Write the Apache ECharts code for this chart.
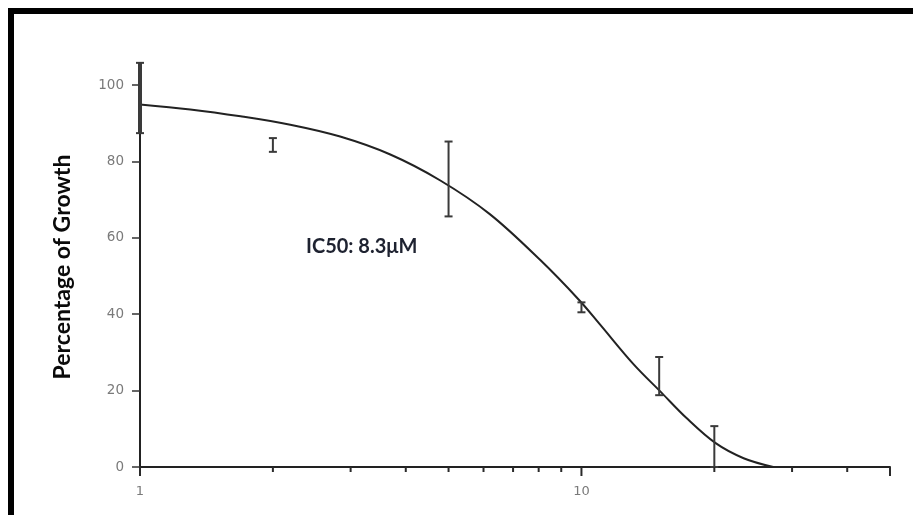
<!DOCTYPE html>
<html>
<head>
<meta charset="utf-8">
<script src="https://cdn.jsdelivr.net/npm/echarts@6/dist/echarts.min.js"></script>
<style>
  html, body { margin: 0; padding: 0; background: #fff; }
  #chart { width: 913px; height: 515px; }
</style>
</head>
<body>
<div id="chart"></div>
<script>
// ---- data ----
const concentrations = [1, 2, 5, 10, 15, 20];
const growthMean = [96.6, 84.3, 75.4, 41.8, 23.8, 5.3];
const growthErr = [9.2, 1.8, 9.8, 1.3, 5.0, 5.4];

const fitConc = [1, 1.3, 1.69, 2.19, 2.84, 3.69, 4.79, 6.2, 8.08, 9.9, 11.0, 13.1, 15.2, 17.3, 20.1, 23.3, 27.2];
const fitGrowth = [94.9, 93.6, 91.8, 89.6, 86.5, 81.8, 75.0, 66.2, 54.1, 43.6, 37.4, 27.0, 19.4, 12.8, 6.3, 2.3, 0];

const yTicks = [0, 20, 40, 60, 80, 100];
const xLabelValues = [1, 10];
const xMajorTicks = [1, 10, 50];
const xMinorTicks = [2, 3, 4, 5, 6, 7, 8, 9, 20, 30, 40];

const yTitle = 'Percentage of Growth';
const annotation = 'IC50: 8.3\u03bcM';

// ---- build ----
const errData = concentrations.map((c, i) => [c, growthMean[i], growthErr[i]]);
const fitData = fitConc.map((c, i) => [c, fitGrowth[i]]);
const tickData = xMajorTicks.map(v => [v, 0, 1]).concat(xMinorTicks.map(v => [v, 0, 0]));

const chart = echarts.init(document.getElementById('chart'), null, { renderer: 'canvas' });

const option = {
  backgroundColor: '#ffffff',
  animation: false,
  grid: { left: 140, right: 23, top: 85, bottom: 48, containLabel: false, outerBoundsMode: 'none' },
  xAxis: {
    type: 'log',
    logBase: 10,
    min: 1,
    max: 50,
    axisLine: { show: true, onZero: false, lineStyle: { color: '#222', width: 2 } },
    axisTick: { show: false },
    splitLine: { show: false },
    minorTick: { show: false },
    axisLabel: {
      margin: 18,
      color: '#7a7a7a',
      fontSize: 13,
      fontFamily: 'DejaVu Sans',
      formatter: v => (xLabelValues.indexOf(Math.round(v * 1000) / 1000) >= 0 ? String(Math.round(v)) : '')
    }
  },
  yAxis: {
    type: 'value',
    min: yTicks[0],
    max: yTicks[yTicks.length - 1],
    interval: yTicks[1] - yTicks[0],
    axisLine: { show: true, lineStyle: { color: '#222', width: 2 } },
    axisTick: { show: true, inside: false, length: 8, lineStyle: { color: '#333', width: 1.5 } },
    splitLine: { show: false },
    axisLabel: { margin: 16, color: '#7a7a7a', fontSize: 13.5, fontFamily: 'DejaVu Sans' }
  },
  graphic: [
    { type: 'rect', shape: { x: 8, y: 8, width: 905, height: 6 }, style: { fill: '#000' }, z: 100 },
    { type: 'rect', shape: { x: 8, y: 8, width: 6, height: 507 }, style: { fill: '#000' }, z: 100 },
    {
      type: 'text', x: 63, y: 267, rotation: Math.PI / 2,
      style: { text: yTitle, font: 'bold 23px Lato', fill: '#0a0a0a', align: 'center', verticalAlign: 'middle' }
    },
    {
      type: 'text', x: 306, y: 247,
      style: { text: annotation, font: 'bold 20px Lato', fill: '#1e2230', align: 'left', verticalAlign: 'middle' }
    }
  ],
  series: [
    {
      name: 'fit',
      type: 'line',
      data: fitData,
      smooth: 0.35,
      symbol: 'none',
      clip: false,
      lineStyle: { color: '#222', width: 2 },
      z: 3
    },
    {
      name: 'error',
      type: 'custom',
      data: errData,
      clip: false,
      z: 4,
      renderItem: function (params, api) {
        const c = api.value(0), m = api.value(1), e = api.value(2);
        const top = api.coord([c, m + e]);
        const bot = api.coord([c, Math.max(0, m - e)]);
        const x = top[0];
        const hw = 4;
        const w = params.dataIndex === 0 ? 4 : 2;
        const st = { stroke: '#3a3a3a', lineWidth: w };
        const stc = { stroke: '#3a3a3a', lineWidth: 2 };
        return {
          type: 'group',
          children: [
            { type: 'line', shape: { x1: x, y1: top[1], x2: x, y2: bot[1] }, style: st },
            { type: 'line', shape: { x1: x - hw, y1: top[1], x2: x + hw, y2: top[1] }, style: stc },
            { type: 'line', shape: { x1: x - hw, y1: bot[1], x2: x + hw, y2: bot[1] }, style: stc }
          ]
        };
      }
    },
    {
      name: 'xticks',
      type: 'custom',
      data: tickData,
      clip: false,
      z: 5,
      renderItem: function (params, api) {
        const p = api.coord([api.value(0), api.value(1)]);
        const len = api.value(2) ? 9 : 5;
        return {
          type: 'line',
          shape: { x1: p[0], y1: p[1], x2: p[0], y2: p[1] + len },
          style: { stroke: '#2a2a2a', lineWidth: 2 }
        };
      }
    }
  ]
};
chart.setOption(option);
</script>
</body>
</html>
